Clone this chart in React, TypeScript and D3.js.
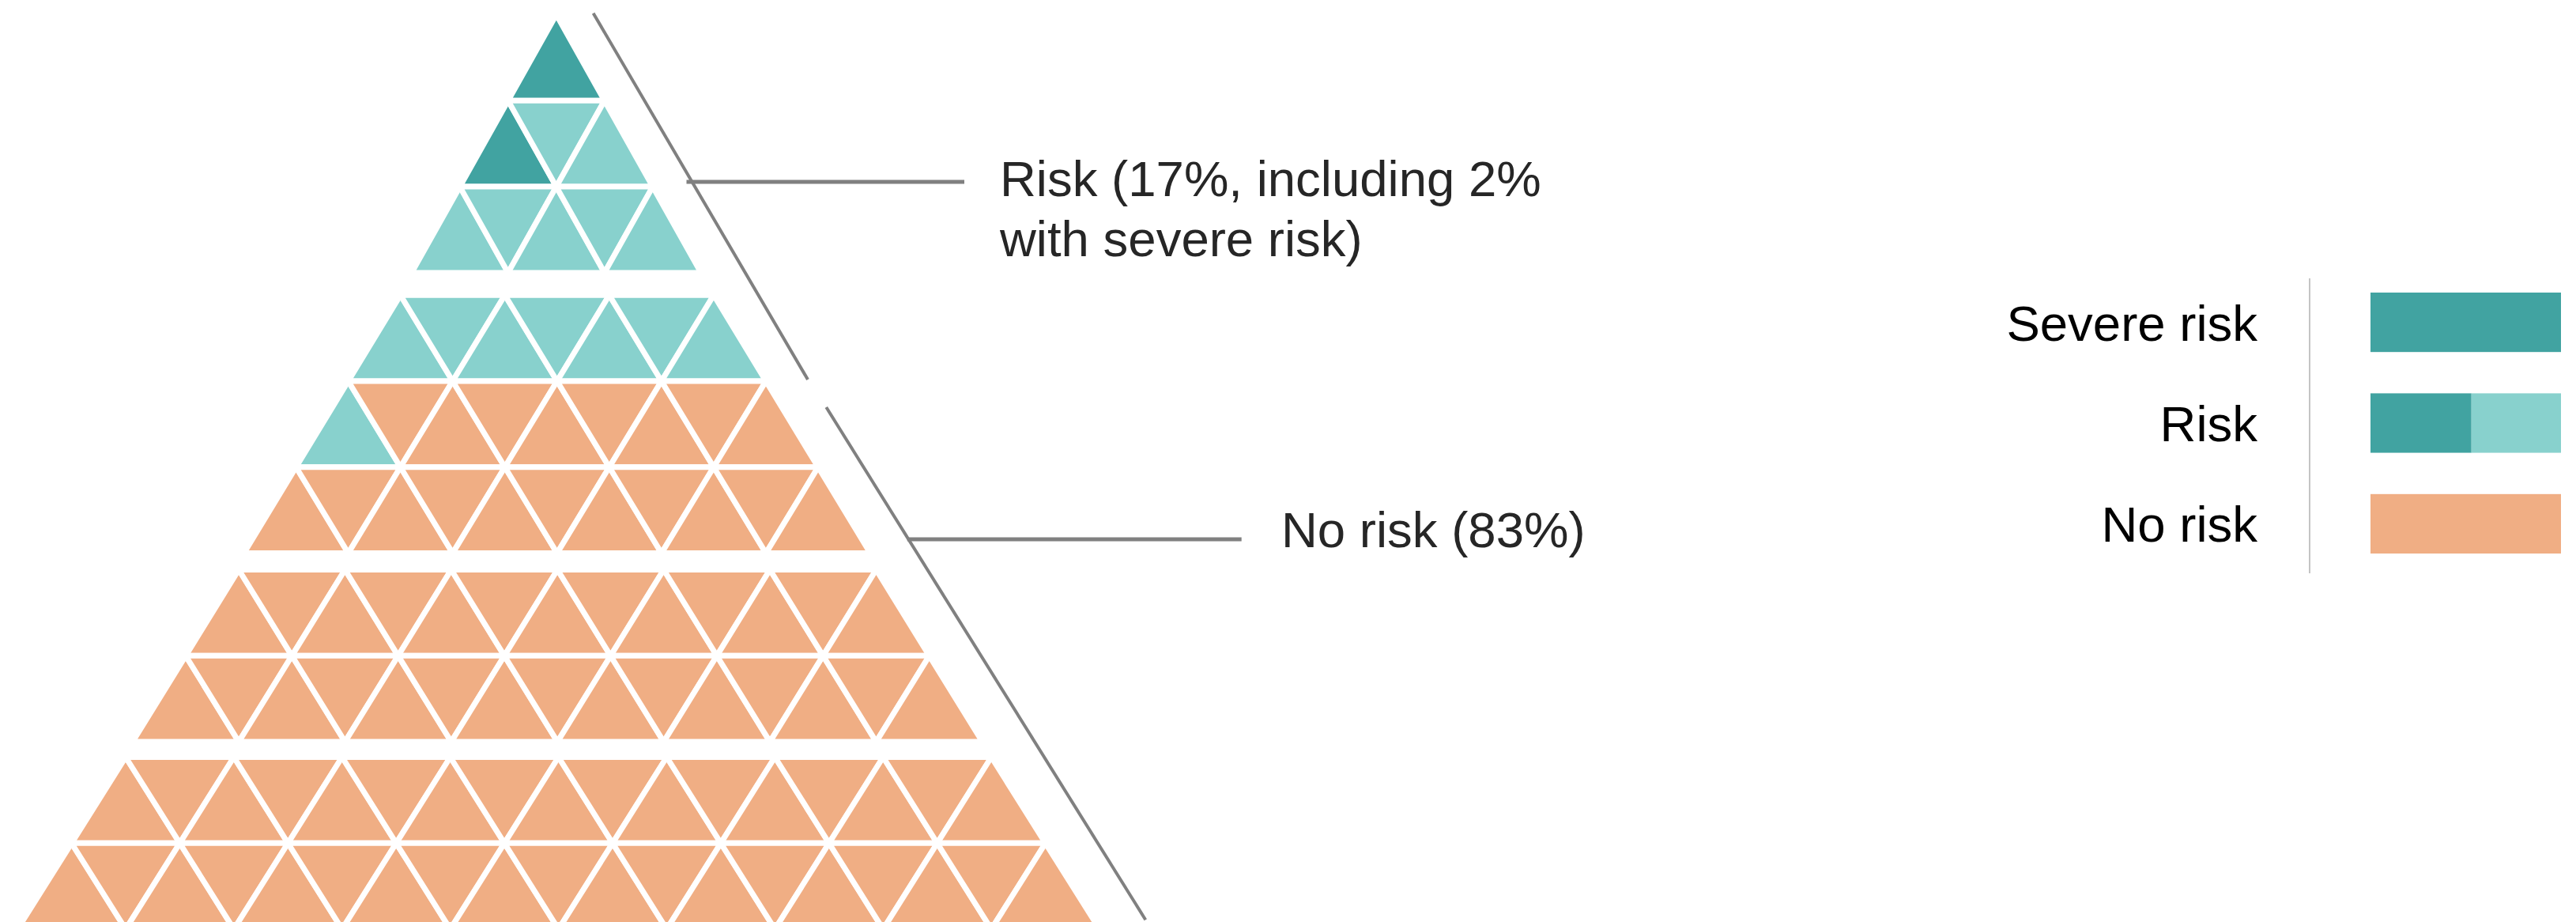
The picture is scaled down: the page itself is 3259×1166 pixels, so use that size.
import React from "react";
import * as d3 from "d3";

// ---- data ----
const categories = ["Severe risk", "Risk", "No risk"];
const sharesPct = [2, 17, 83]; // Risk share includes severe risk
const annotationRisk = ["Risk (17%, including 2%", "with severe risk)"];
const annotationNoRisk = ["No risk (83%)"];
const rowsPerBand = [3, 3, 2, 2];

// ---- layout / style ----
const W = 3259;
const H = 1166;
const COLORS = { severe: "#41A3A1", risk: "#88D1CD", none: "#F0AE84" };
const bandTop = [18.5, 373.2, 720.5, 957.5];
const bandPitch = [122, 132.1, 134.4, 136.9];
const bandCx = [703.8, 704.8, 705.3, 706.6];
const rowH = 108.8;
const FONT = "'Liberation Sans', Arial, Helvetica, sans-serif";

type Tri = { pts: [number, number][]; color: string; key: string };

function buildTriangles(): Tri[] {
  const tris: Tri[] = [];
  let idx = 0;
  let rowNum = 0;
  const colorFor = (i: number) =>
    i < sharesPct[0] ? COLORS.severe : i < sharesPct[1] ? COLORS.risk : COLORS.none;
  rowsPerBand.forEach((nRows, b) => {
    for (let r = 0; r < nRows; r++) {
      rowNum += 1;
      const n = rowNum;
      const x = d3
        .scaleLinear()
        .domain([0, 1])
        .range([bandCx[b], bandCx[b] + bandPitch[b]]);
      const y0 = bandTop[b] + r * rowH;
      const y = d3.scaleLinear().domain([0, 1]).range([y0, y0 + rowH]);
      for (let k = 0; k < n; k++) {
        const u = k - (n - 1) / 2;
        tris.push({
          key: `u${n}-${k}`,
          color: colorFor(idx),
          pts: [
            [x(u), y(0)],
            [x(u + 0.5), y(1)],
            [x(u - 0.5), y(1)],
          ],
        });
        idx++;
        if (k < n - 1) {
          tris.push({
            key: `d${n}-${k}`,
            color: colorFor(idx),
            pts: [
              [x(u), y(0)],
              [x(u + 1), y(0)],
              [x(u + 0.5), y(1)],
            ],
          });
          idx++;
        }
      }
    }
  });
  return tris;
}

export default function App() {
  const tris = buildTriangles();
  const line = d3.line();

  const legendX = d3.scaleLinear().domain([0, 1]).range([2999, 3240]);
  const legendY = d3
    .scaleBand<string>()
    .domain(categories)
    .range([370, 700])
    .paddingInner(0.41)
    .paddingOuter(0);
  const riskSplit = 0.53;

  return (
    <svg
      width={W}
      height={H}
      viewBox={`0 0 ${W} ${H}`}
      style={{ position: "absolute", left: 0, top: 0, background: "#fff" }}
      fontFamily={FONT}
    >
      <rect x={0} y={0} width={W} height={H} fill="#fff" />
      <g>
        {tris.map((t) => (
          <path
            key={t.key}
            d={line(t.pts) + "Z"}
            fill={t.color}
            stroke="#fff"
            strokeWidth={7}
            strokeLinejoin="miter"
          />
        ))}
      </g>

      {/* annotation brackets */}
      <g stroke="#808080" strokeWidth={4} fill="none">
        <line x1={750.6} y1={16.7} x2={1022} y2={480} />
        <line x1={1045.3} y1={515} x2={1449.3} y2={1163.3} />
        <line x1={868.5} y1={230} x2={1220} y2={230} strokeWidth={5} />
        <line x1={1147.8} y1={682} x2={1570.7} y2={682} strokeWidth={5} />
      </g>
      <g fill="#262626" fontSize={63.5}>
        {annotationRisk.map((s, i) => (
          <text key={s} x={1265} y={247.6 + i * 76.4}>
            {s}
          </text>
        ))}
        {annotationNoRisk.map((s) => (
          <text key={s} x={1621} y={691.5}>
            {s}
          </text>
        ))}
      </g>

      {/* legend */}
      <line x1={2922} y1={352} x2={2922} y2={725} stroke="#c4c4c4" strokeWidth={2} />
      <g fontSize={63.5} fill="#000">
        {categories.map((c) => {
          const y = legendY(c)!;
          const bh = legendY.bandwidth();
          return (
            <g key={c}>
              <text x={2856} y={y + bh / 2 + 23} textAnchor="end">
                {c}
              </text>
              {c === "Severe risk" && (
                <rect x={legendX(0)} y={y} width={legendX(1) - legendX(0)} height={bh} fill={COLORS.severe} />
              )}
              {c === "Risk" && (
                <>
                  <rect x={legendX(0)} y={y} width={legendX(riskSplit) - legendX(0)} height={bh} fill={COLORS.severe} />
                  <rect x={legendX(riskSplit)} y={y} width={legendX(1) - legendX(riskSplit)} height={bh} fill={COLORS.risk} />
                </>
              )}
              {c === "No risk" && (
                <rect x={legendX(0)} y={y} width={legendX(1) - legendX(0)} height={bh} fill={COLORS.none} />
              )}
            </g>
          );
        })}
      </g>
    </svg>
  );
}
